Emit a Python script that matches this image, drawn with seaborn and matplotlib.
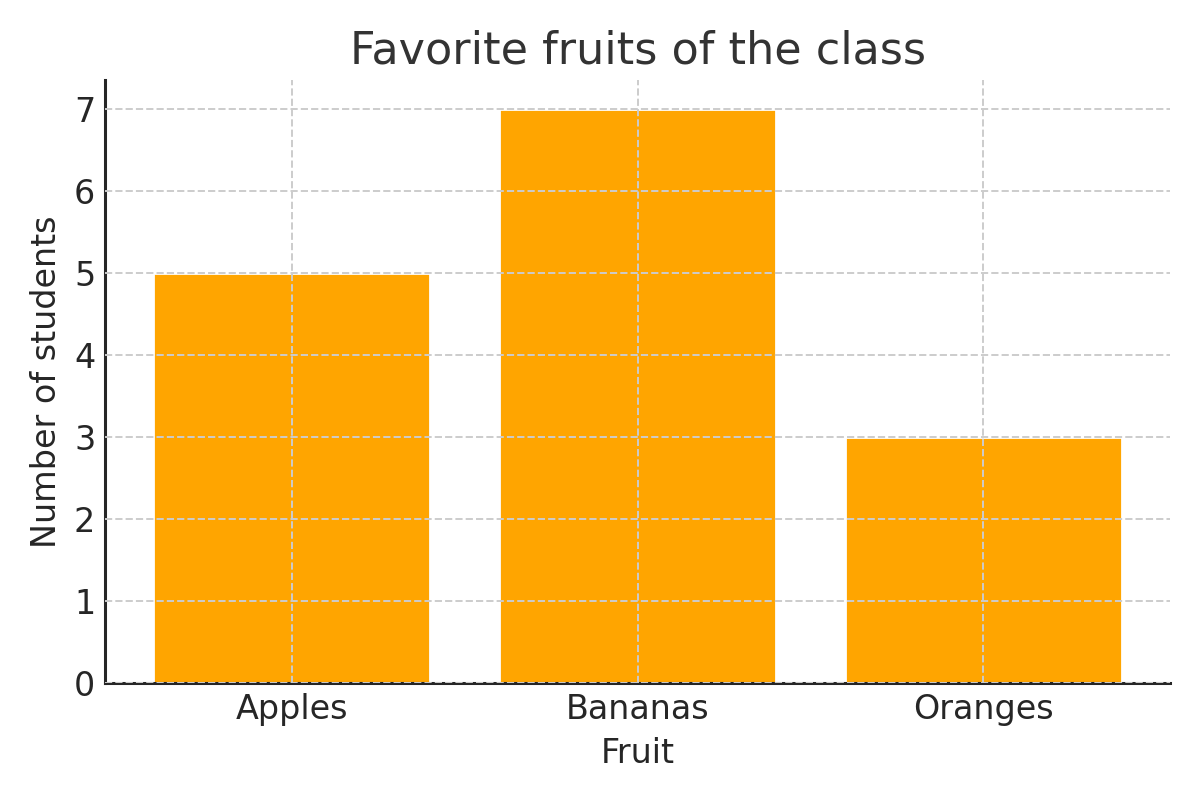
import matplotlib
matplotlib.use("Agg")
import matplotlib.pyplot as plt
import seaborn as sns
import pandas as pd

# data
fruits = ["Apples", "Bananas", "Oranges"]
students = [5, 7, 3]

df = pd.DataFrame({"Fruit": fruits, "Number of students": students})

sns.set_style("white")
plt.rcParams['font.family'] = ['DejaVu Sans']

fig, ax = plt.subplots(figsize=(6, 4), dpi=200)
fig.subplots_adjust(left=0.0875, right=0.975, top=0.9, bottom=0.146)

sns.barplot(data=df, x="Fruit", y="Number of students", color="#FFA500",
            saturation=1, width=0.8, ax=ax, zorder=1)

ax.set_axisbelow(False)
ax.grid(True, linestyle="--", color="#cccccc", linewidth=0.7, zorder=2)
for gl in ax.get_xgridlines() + ax.get_ygridlines():
    gl.set_zorder(2)

ax.set_xlim(-0.54, 2.54)
ax.set_ylim(0, 7.35)

ax.spines['top'].set_visible(False)
ax.spines['right'].set_visible(False)
for s in ['left', 'bottom']:
    ax.spines[s].set_color("#262626")
    ax.spines[s].set_linewidth(1.1)

ax.tick_params(direction="in", length=4, width=1, colors="#262626", labelsize=12)
ax.set_xlabel("Fruit", fontsize=12, color="#262626")
ax.set_ylabel("Number of students", fontsize=12, color="#262626")
ax.set_title("Favorite fruits of the class", fontsize=16, color="#333333")

fig.savefig("out.png", dpi=200)
